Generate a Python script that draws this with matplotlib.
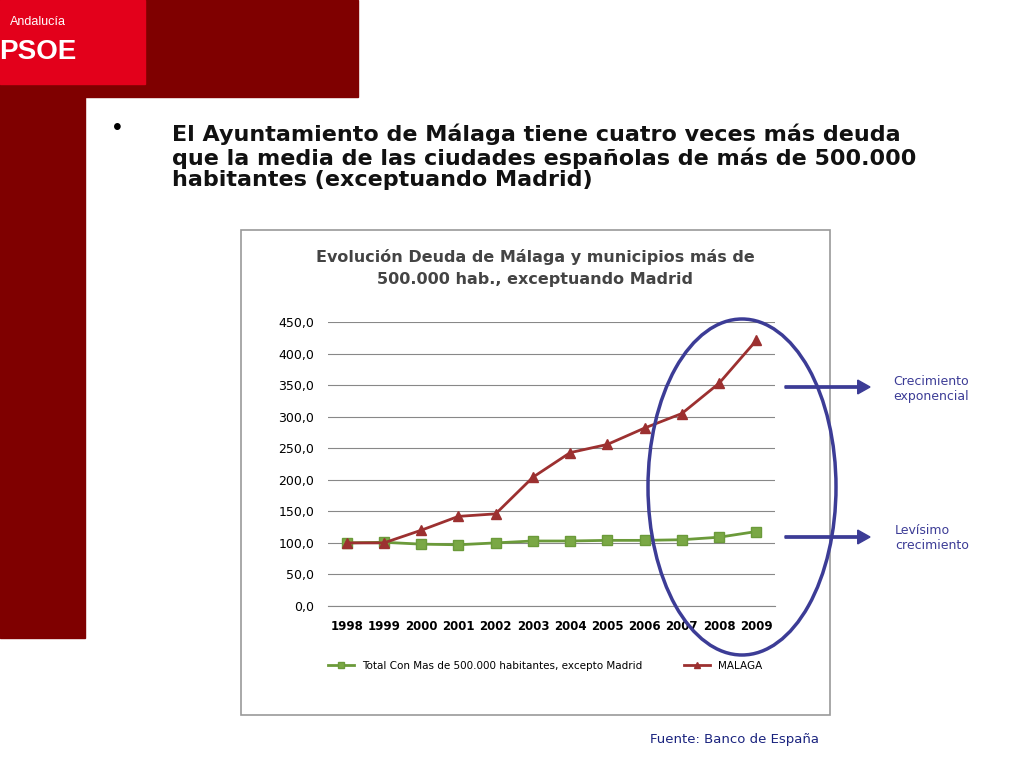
import matplotlib
matplotlib.use("Agg")
import matplotlib.pyplot as plt
from matplotlib.patches import Rectangle, Ellipse, FancyArrow

years = ["1998","1999","2000","2001","2002","2003","2004","2005","2006","2007","2008","2009"]
total = [100, 101, 98, 97, 100, 103, 103, 104, 104, 105, 109, 118]
malaga = [100, 100, 120, 142, 146, 204, 243, 256, 282, 305, 353, 421]
yticks = [0, 50, 100, 150, 200, 250, 300, 350, 400, 450]

W, H = 1024, 768
fig = plt.figure(figsize=(10.24, 7.68), dpi=100)
fig.patch.set_facecolor("white")
def fx(x): return x / W
def fy(y): return 1 - y / H

dark = "#7f0000"
fig.add_artist(Rectangle((0, fy(638)), fx(85), fy(0) - fy(638), transform=fig.transFigure, color=dark, zorder=0))
fig.add_artist(Rectangle((0, fy(97)), fx(358), fy(0) - fy(97), transform=fig.transFigure, color=dark, zorder=0))
fig.add_artist(Rectangle((0, fy(84)), fx(145), fy(0) - fy(84), transform=fig.transFigure, color="#e3001b", zorder=1))
fig.text(fx(38), fy(22), "Andalucía", color="white", fontsize=9, ha="center", va="center", family="Liberation Sans")
fig.text(fx(38), fy(52), "PSOE", color="white", fontsize=20, fontweight="bold", ha="center", va="center", family="Liberation Sans")

fig.text(fx(113), fy(128), "•", fontsize=18, va="center", family="Liberation Sans")
fig.text(fx(172), fy(157), "El Ayuntamiento de Málaga tiene cuatro veces más deuda\nque la media de las ciudades españolas de más de 500.000\nhabitantes (exceptuando Madrid)",
         fontsize=16, fontweight="bold", va="center", ha="left", linespacing=1.1, family="DejaVu Sans", color="#111111")

# chart frame
fig.add_artist(Rectangle((fx(241), fy(715)), fx(830 - 241), fy(230) - fy(715), transform=fig.transFigure,
                         facecolor="white", edgecolor="#999999", lw=1.2, zorder=1))
fig.text(fx(535), fy(268), "Evolución Deuda de Málaga y municipios más de\n500.000 hab., exceptuando Madrid",
         fontsize=11.5, fontweight="bold", ha="center", va="center", color="#444444", linespacing=1.6, zorder=3)

ax = fig.add_axes([fx(328), fy(606), fx(447), fy(322) - fy(606)])
ax.set_zorder(3)
ax.patch.set_alpha(0)
x = list(range(len(years)))
ax.plot(x, total, color="#6b9a3a", marker="s", markersize=7, lw=2, markerfacecolor="#7aa845",
        label="Total Con Mas de 500.000 habitantes, excepto Madrid")
ax.plot(x, malaga, color="#9c3030", marker="^", markersize=7, lw=2, label="MALAGA")
ax.set_xlim(-0.5, 11.5)
ax.set_ylim(0, 450)
ax.set_yticks(yticks)
ax.set_yticklabels([f"{v:.1f}".replace(".", ",") for v in yticks], fontsize=9)
ax.set_xticks(x)
ax.set_xticklabels(years, fontsize=8.5, fontweight="bold")
ax.grid(axis="y", color="#888888", lw=0.8)
for s in ["top", "right", "left"]:
    ax.spines[s].set_visible(False)
ax.spines["bottom"].set_color("#888888")
ax.tick_params(length=0, pad=10)
ax.set_axisbelow(True)
leg = fig.legend(loc="center", bbox_to_anchor=(fx(545), fy(666)), ncol=2, frameon=False, fontsize=7.5,
                 columnspacing=4, markerscale=0.6, handlelength=2.5)
leg.set_zorder(4)

fig.add_artist(Ellipse((fx(742), fy(487)), fx(188), fy(0) - fy(336), transform=fig.transFigure,
                       fill=False, edgecolor="#3c3c96", lw=2.5, zorder=5))
for yy in [387, 537]:
    fig.add_artist(FancyArrow(fx(785), fy(yy), fx(85), 0, transform=fig.transFigure, width=0.003,
                              head_width=0.018, head_length=0.012, length_includes_head=True,
                              color="#3c3c96", zorder=5))
fig.text(fx(893), fy(389), "Crecimiento\nexponencial", fontsize=9, color="#3c3c96", va="center")
fig.text(fx(895), fy(538), "Levísimo\ncrecimiento", fontsize=9, color="#3c3c96", va="center")
fig.text(fx(650), fy(740), "Fuente: Banco de España", fontsize=9.5, color="#1a237e", va="center")

fig.savefig("out.png", dpi=100)
